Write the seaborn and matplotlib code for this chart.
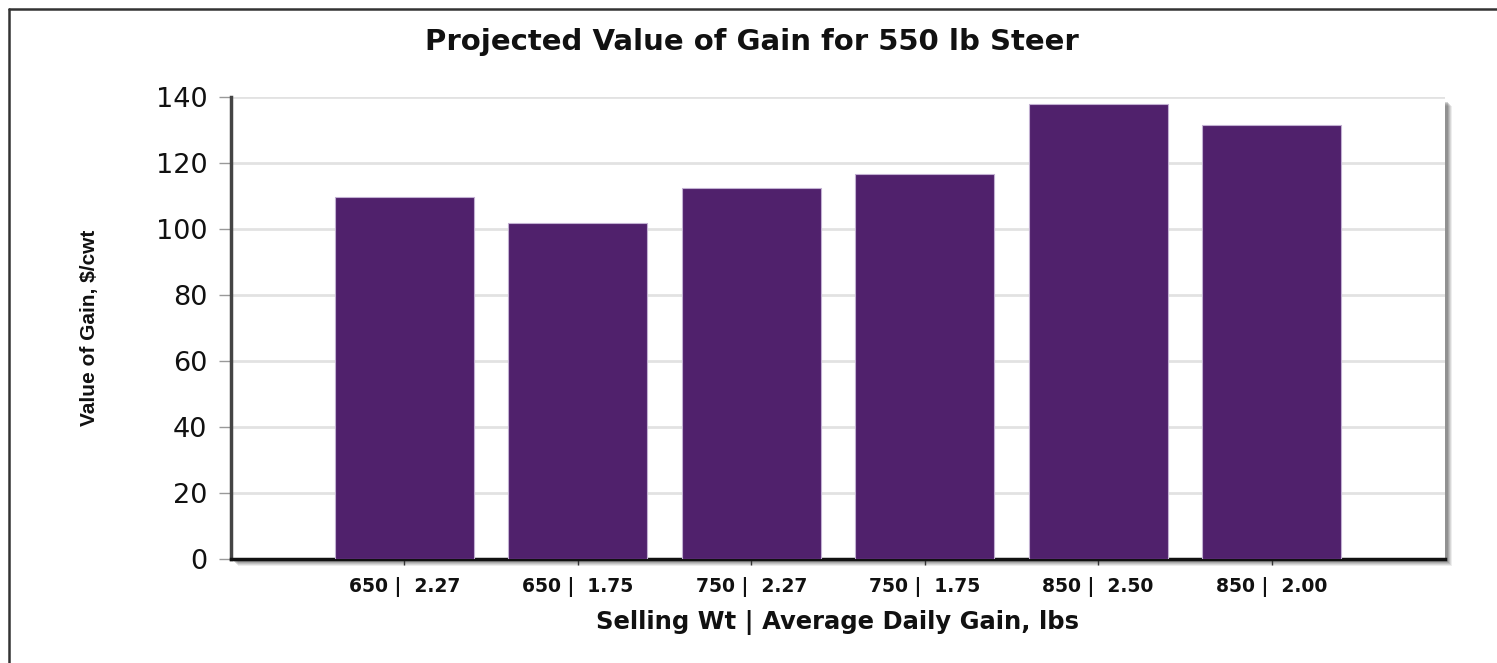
import matplotlib
matplotlib.use("Agg")
import matplotlib.pyplot as plt
import matplotlib.patches as mpatches
import matplotlib.lines as mlines
import seaborn as sns
import pandas as pd

categories = ["650 |  2.27", "650 |  1.75", "750 |  2.27", "750 |  1.75", "850 |  2.50", "850 |  2.00"]
values = [109.7, 101.7, 112.4, 116.7, 138.0, 131.4]
yticks = [0, 20, 40, 60, 80, 100, 120, 140]

sns.set_theme(style="white")
plt.rcParams['font.family'] = ['DejaVu Sans']

W, H = 1497, 663
fig = plt.figure(figsize=(W / 100, H / 100), dpi=100)
fig.patch.set_facecolor("white")

L, R, T, B = 231, 1445, 97, 559
ax = fig.add_axes([L / W, 1 - B / H, (R - L) / W, (B - T) / H])
ax.set_zorder(2)

# drop shadow behind the axes
for i, a in enumerate([0.10, 0.14, 0.18, 0.22, 0.26]):
    off = 7 - i
    rect = mpatches.Rectangle(((L + off) / W, 1 - (B + off) / H), (R - L) / W, (B - T - 2) / H,
                              transform=fig.transFigure, facecolor="#555555", alpha=a,
                              edgecolor="none", zorder=0)
    fig.patches.append(rect)

df = pd.DataFrame({"cat": categories, "val": values})
sns.barplot(data=df, x="cat", y="val", color="#50216C", saturation=1, width=0.8,
            edgecolor="#c2b0d2", linewidth=0.8, ax=ax, zorder=3)

ax.set_xlim(-1, 6)
ax.set_ylim(0, 140)
ax.set_yticks(yticks)
ax.set_facecolor("white")
ax.yaxis.grid(True, color="#e2e2e2", linewidth=2)
ax.set_axisbelow(True)

for s in ["top", "right"]:
    ax.spines[s].set_visible(False)
ax.spines["left"].set_color("#444444")
ax.spines["left"].set_linewidth(2.5)
ax.spines["bottom"].set_color("#111111")
ax.spines["bottom"].set_linewidth(2.5)

ax.tick_params(axis="y", which="both", left=True, length=9, width=1, color="#999999",
               labelsize=19.5, pad=8, labelcolor="#111111")
ax.tick_params(axis="x", which="both", bottom=True, length=4, width=1, color="#333333",
               labelsize=13.5, pad=9, labelcolor="#111111")
for lbl in ax.get_xticklabels():
    lbl.set_fontweight("bold")

ax.set_xlabel("Selling Wt | Average Daily Gain, lbs", fontsize=17.5, fontweight="bold",
              color="#111111", labelpad=9)
ax.set_ylabel("")

fig.text(752 / W, 1 - 42 / H, "Projected Value of Gain for 550 lb Steer", ha="center", va="center",
         fontsize=21, fontweight="bold", color="#111111")
fig.text(90 / W, 1 - 328 / H, "Value of Gain, $/cwt", ha="center", va="center", rotation=90,
         fontsize=15, fontweight="bold", color="#111111",
         family=["Liberation Sans Narrow", "Liberation Sans", "DejaVu Sans"])

# figure border (top and left visible)
fig.lines.append(mlines.Line2D([9 / W, 9 / W], [0, 1 - 9 / H], transform=fig.transFigure,
                               color="#333333", linewidth=1.8))
fig.lines.append(mlines.Line2D([9 / W, 1], [1 - 9 / H, 1 - 9 / H], transform=fig.transFigure,
                               color="#333333", linewidth=1.8))

fig.savefig("out.png", dpi=100, facecolor="white")
